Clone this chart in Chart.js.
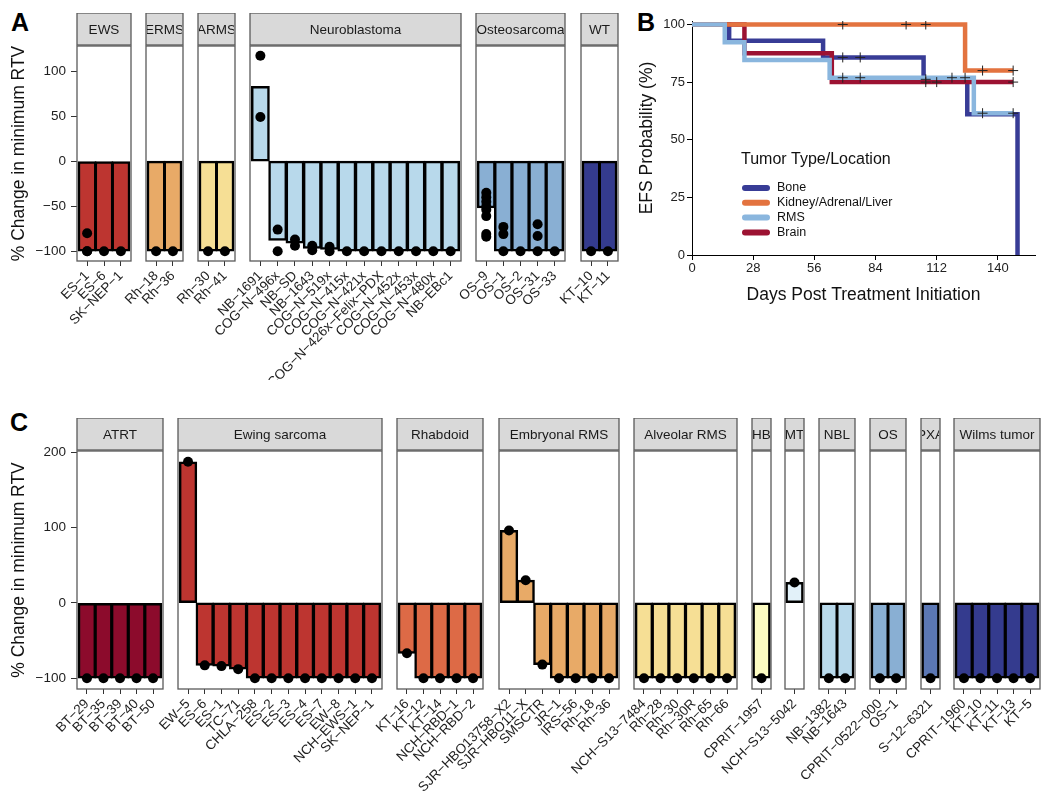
<!DOCTYPE html>
<html lang="en">
<head>
<meta charset="UTF-8" />
<title>Minimum RTV change and EFS</title>
<style>
  body { margin: 0; background: #fff; font-family: "Liberation Sans", Arial, sans-serif; }
  #page { position: relative; width: 1050px; height: 804px; overflow: hidden; }
  .tag { position: absolute; font-weight: bold; font-size: 25px; line-height: 25px; color: #000; }
  canvas { position: absolute; }
</style>
</head>
<body>
<div id="page">
  <div class="tag" style="left:11px;top:10px">A</div>
  <div class="tag" style="left:637px;top:10px">B</div>
  <div class="tag" style="left:10px;top:410px">C</div>
  <canvas id="km" width="420" height="320" style="left:630px;top:0"></canvas>
</div>

<script src="https://cdn.jsdelivr.net/npm/chart.js@4"></script>
<script>
  // ---- panel A : median change per model, dots = individual mice
  const aFacets = ['EWS', 'ERMS', 'ARMS', 'Neuroblastoma', 'Osteosarcoma', 'WT'];
  const aColors = ['#bd3530', '#e8aa67', '#f6df95', '#b8d9eb', '#89afd3', '#343b8e'];
  const aModels = [
    ['ES-1', 'ES-6', 'SK-NEP-1'],
    ['Rh-18', 'Rh-36'],
    ['Rh-30', 'Rh-41'],
    ['NB-1691', 'COG-N-496x', 'NB-SD', 'NB-1643', 'COG-N-519x', 'COG-N-415x', 'COG-N-421x',
     'COG-N-426x-Felix-PDX', 'COG-N-452x', 'COG-N-453x', 'COG-N-480x', 'NB-EBc1'],
    ['OS-9', 'OS-1', 'OS-2', 'OS-31', 'OS-33'],
    ['KT-10', 'KT-11']
  ];
  const aBars = [
    [-100, -100, -100],
    [-100, -100],
    [-100, -100],
    [83, -88, -91, -97, -98, -100, -100, -100, -100, -100, -100, -100],
    [-52, -100, -100, -100, -100],
    [-100, -100]
  ];
  const aPoints = [
    [[-80, -100, -100], [-100], [-100]],
    [[-100], [-100]],
    [[-100], [-100]],
    [[117, 49], [-76, -100], [-87, -94], [-94, -99], [-95, -100], [-100], [-100], [-100],
     [-100], [-100], [-100], [-100]],
    [[-35, -40, -45, -50, -54, -61, -81, -84], [-73, -81, -100], [-100], [-70, -83, -100], [-100]],
    [[-100], [-100]]
  ];
  const aYTicks = [-100, -50, 0, 50, 100];

  // ---- panel C : single mouse per model
  const cFacets = ['ATRT', 'Ewing sarcoma', 'Rhabdoid', 'Embryonal RMS', 'Alveolar RMS',
                   'HB', 'MT', 'NBL', 'OS', 'PXA', 'Wilms tumor'];
  const cColors = ['#8c0b2c', '#bd3530', '#dd6a46', '#e8aa67', '#f6df95',
                   '#fdfcc2', '#e2f1f9', '#b8d9eb', '#89afd3', '#5b77b4', '#343b8e'];
  const cModels = [
    ['BT-29', 'BT-35', 'BT-39', 'BT-40', 'BT-50'],
    ['EW-5', 'ES-6', 'ES-1', 'TC-71', 'CHLA-258', 'ES-2', 'ES-3', 'ES-4', 'ES-7', 'EW-8',
     'NCH-EWS-1', 'SK-NEP-1'],
    ['KT-16', 'KT-12', 'KT-14', 'NCH-RBD-1', 'NCH-RBD-2'],
    ['SJR-HBO13758-X2', 'SJR-HBO11-X', 'SMSCTR', 'JR-1', 'IRS-56', 'Rh-18', 'Rh-36'],
    ['NCH-S13-7484', 'Rh-28', 'Rh-30', 'Rh-30R', 'Rh-65', 'Rh-66'],
    ['CPRIT-1957'],
    ['NCH-S13-5042'],
    ['NB-1382', 'NB-1643'],
    ['CPRIT-0522-000', 'OS-1'],
    ['S-12-6321'],
    ['CPRIT-1960', 'KT-10', 'KT-11', 'KT-13', 'KT-5']
  ];
  const cValues = [
    [-100, -100, -100, -100, -100],
    [187, -83, -84, -88, -100, -100, -100, -100, -100, -100, -100, -100],
    [-67, -100, -100, -100, -100],
    [96, 30, -82, -100, -100, -100, -100],
    [-100, -100, -100, -100, -100, -100],
    [-100],
    [27],
    [-100, -100],
    [-100, -100],
    [-100],
    [-100, -100, -100, -100, -100]
  ];
  const cYTicks = [-100, 0, 100, 200];

  // ---- panel B : Kaplan-Meier EFS
  const kmGroups = ['Bone', 'Kidney/Adrenal/Liver', 'RMS', 'Brain'];
  const kmColors = ['#383c96', '#e3733f', '#8ab6de', '#9c1232'];
  const kmEventDays = [[17, 60, 106, 126, 149], [125], [15, 24, 63, 129], [24, 64]];
  const kmEventEfs = [[92.9, 85.7, 76.2, 61.0, 0], [80], [92.3, 84.6, 76.9, 61.5], [87.5, 75]];
  const kmCensorDays = [[69, 77, 107], [69, 98, 107, 133, 147], [69, 77, 119, 125, 133, 147], [107, 112, 147]];
  const kmDrawOrder = [4, 2, 1, 3];
  const kmXTicks = [0, 28, 56, 84, 112, 140];
  const kmYTicks = [0, 25, 50, 75, 100];

  const FONT = '"Liberation Sans", Arial, sans-serif';
  Chart.defaults.font.family = FONT;
  Chart.defaults.color = '#222';
  Chart.defaults.animation = false;

  const minus = s => String(s).replace(/-/g, '\u2212');

  // gray strip above the panel + panel frame
  const stripPlugin = {
    id: 'strip',
    afterDraw(chart, args, opts) {
      const { ctx, chartArea: a } = chart;
      const sy = a.top - 33;
      ctx.save();
      ctx.strokeStyle = '#5a5a5a';
      ctx.lineWidth = 1.3;
      ctx.strokeRect(a.left, a.top, a.width, a.height);
      ctx.fillStyle = '#d9d9d9';
      ctx.fillRect(a.left, sy, a.width, 32);
      ctx.strokeRect(a.left, sy, a.width, 32);
      ctx.beginPath();
      ctx.rect(a.left + 1, sy, a.width - 2, 32);
      ctx.clip();
      ctx.fillStyle = '#1a1a1a';
      ctx.font = '13.5px ' + FONT;
      ctx.textAlign = 'center';
      ctx.textBaseline = 'middle';
      ctx.fillText(opts.text, (a.left + a.right) / 2, sy + 17);
      ctx.restore();
    }
  };

  function drawPanel(p) {
    const page = document.getElementById('page');
    const all = p.bars.flat().concat(p.points.flat(2));
    const lo = Math.min(...all), hi = Math.max(...all);
    const yMin = lo - 0.05 * (hi - lo), yMax = hi + 0.05 * (hi - lo);
    let left = p.x0;

    p.facets.forEach((name, f) => {
      const labels = p.models[f];
      const n = labels.length;
      const w = (n + 0.2) * p.unit;
      const first = f === 0;
      const padL = first ? 0 : 140;
      const yW = p.x0;
      const canvas = document.createElement('canvas');
      canvas.width = Math.ceil((first ? yW : padL) + w + 3);
      canvas.height = p.bottom - p.top;
      canvas.style.left = (first ? 0 : left - padL) + 'px';
      canvas.style.top = p.top + 'px';
      page.appendChild(canvas);

      const bars = p.bars[f].map((v, i) => ({ x: i, y: v }));
      const dots = p.points[f].flatMap((vals, i) => vals.map(v => ({ x: i, y: v })));

      new Chart(canvas, {
        type: 'bar',
        data: {
          datasets: [
            { type: 'scatter', data: dots, backgroundColor: '#000', borderWidth: 0,
              pointRadius: 5, order: 1 },
            { data: bars, backgroundColor: p.colors[f], borderColor: '#000', borderWidth: 2.5,
              borderSkipped: false, barThickness: p.unit * 0.9 + 2.5, order: 2 }
          ]
        },
        options: {
          responsive: false,
          layout: { padding: { left: padL, right: canvas.width - (first ? yW : padL) - w, top: 33, bottom: 0 } },
          plugins: { legend: { display: false }, tooltip: { enabled: false }, strip: { text: name } },
          scales: {
            x: {
              type: 'linear', min: -0.6, max: n - 0.4, offset: false,
              afterBuildTicks: s => { s.ticks = labels.map((_, i) => ({ value: i })); },
              afterFit: s => { s.height = p.axisH; s.paddingLeft = 0; s.paddingRight = 0; },
              grid: { drawOnChartArea: false, offset: false, tickLength: 5, color: '#333' },
              border: { display: false },
              ticks: { autoSkip: false, minRotation: 45, maxRotation: 45, padding: 2,
                       font: { size: 13.5 }, color: '#1e1e1e',
                       callback: v => minus(labels[v]) }
            },
            y: {
              min: yMin, max: yMax, display: first,
              afterBuildTicks: s => { s.ticks = p.yTicks.map(v => ({ value: v })); },
              afterFit: s => { s.width = first ? yW : 0; },
              grid: { drawOnChartArea: false, tickLength: 6, color: '#333' },
              border: { display: false },
              ticks: { padding: 5, font: { size: 13.5 }, color: '#1e1e1e', callback: v => minus(v) },
              title: { display: true, text: '% Change in minimum RTV', color: '#111',
                       font: { size: 17.5 }, padding: { top: 9, bottom: 0 } }
            }
          }
        },
        plugins: [stripPlugin]
      });
      left += w + p.gap;
    });
  }

  drawPanel({ facets: aFacets, models: aModels, bars: aBars, points: aPoints, colors: aColors,
              yTicks: aYTicks, x0: 77, unit: 17.4, gap: 13.7, top: 13, bottom: 380, axisH: 119 });

  drawPanel({ facets: cFacets, models: cModels, bars: cValues, points: cValues.map(r => r.map(v => [v])),
              colors: cColors, yTicks: cYTicks, x0: 77, unit: 16.85, gap: 13.6, top: 418, bottom: 804, axisH: 115 });

  // ---- Kaplan-Meier
  function levelAt(g, day) {
    let s = 100;
    kmEventDays[g].forEach((d, i) => { if (d <= day) s = kmEventEfs[g][i]; });
    return s;
  }

  const kmSets = [];
  kmGroups.forEach((g, i) => {
    const end = Math.max(...kmEventDays[i], ...kmCensorDays[i]);
    const pts = [{ x: 0, y: 100 }].concat(kmEventDays[i].map((d, k) => ({ x: d, y: kmEventEfs[i][k] })));
    if (end > kmEventDays[i][kmEventDays[i].length - 1]) pts.push({ x: end, y: levelAt(i, end) });
    kmSets.push({ label: g, data: pts, stepped: 'before', borderColor: kmColors[i], borderWidth: 4.5,
                  pointRadius: 0, fill: false, clip: false, order: kmDrawOrder[i] });
    kmSets.push({ type: 'scatter', data: kmCensorDays[i].map(d => ({ x: d, y: levelAt(i, d) })),
                  pointStyle: 'cross', pointRadius: 5, borderColor: '#222', borderWidth: 1, order: 0 });
  });

  const kmLegend = {
    id: 'kmLegend',
    afterDraw(chart) {
      const { ctx, chartArea: a } = chart;
      ctx.save();
      ctx.textBaseline = 'middle';
      ctx.fillStyle = '#111';
      ctx.font = '16px ' + FONT;
      ctx.fillText('Tumor Type/Location', a.left + 49, 160);
      kmGroups.forEach((g, i) => {
        const y = 188 + i * 14.8;
        ctx.strokeStyle = kmColors[i];
        ctx.lineWidth = 6;
        ctx.lineCap = 'round';
        ctx.beginPath();
        ctx.moveTo(a.left + 53, y);
        ctx.lineTo(a.left + 75, y);
        ctx.stroke();
        ctx.fillStyle = '#111';
        ctx.font = '12.5px ' + FONT;
        ctx.fillText(g, a.left + 85, y);
      });
      ctx.restore();
    }
  };

  new Chart(document.getElementById('km'), {
    type: 'line',
    data: { datasets: kmSets },
    options: {
      responsive: false,
      layout: { padding: { top: 21, right: 15, left: 0, bottom: 0 } },
      plugins: { legend: { display: false }, tooltip: { enabled: false } },
      scales: {
        x: {
          type: 'linear', min: 0, max: 157,
          afterBuildTicks: s => { s.ticks = kmXTicks.map(v => ({ value: v })); },
          afterFit: s => { s.height = 65; },
          grid: { drawOnChartArea: false, tickLength: 5, color: '#000' },
          border: { color: '#000', width: 1 },
          ticks: { maxRotation: 0, padding: 1, font: { size: 13 }, color: '#222' },
          title: { display: true, text: 'Days Post Treatment Initiation', color: '#111',
                   font: { size: 17.5 }, padding: { top: 0, bottom: 14 } }
        },
        y: {
          min: 0, max: 101.5,
          afterBuildTicks: s => { s.ticks = kmYTicks.map(v => ({ value: v })); },
          afterFit: s => { s.width = 62; },
          grid: { drawOnChartArea: false, tickLength: 5, color: '#000' },
          border: { color: '#000', width: 1 },
          ticks: { padding: 2, font: { size: 13 }, color: '#222' },
          title: { display: true, text: 'EFS Probability (%)', color: '#111',
                   font: { size: 17.5 }, padding: { top: 7, bottom: 0 } }
        }
      }
    },
    plugins: [kmLegend]
  });
</script>
</body>
</html>
